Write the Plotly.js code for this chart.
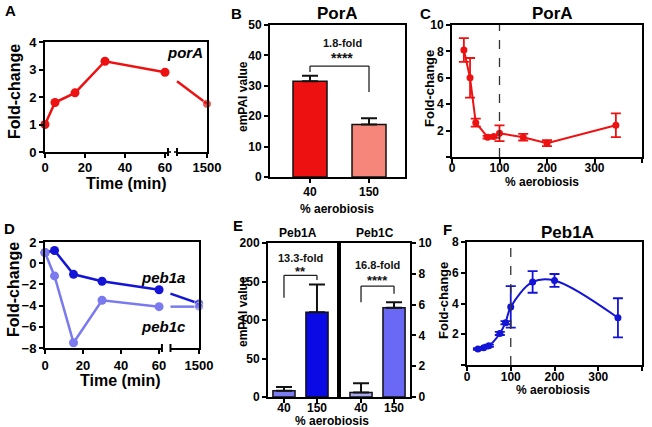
<!DOCTYPE html>
<html><head><meta charset="utf-8">
<script src="https://cdn.plot.ly/plotly-3.0.1.min.js"></script>
<style>html,body{margin:0;padding:0;background:#fff}#chart{width:652px;height:427px}</style>
</head><body><div id="chart"></div>
<script>
// ---------- data ----------
const timeLabels = ['0','20','40','60','1500'];
const timeTicks = [0,20,40,60,1500];
const timeMin = [0,5,15,30,60,1500];
const porA = [1.0,1.8,2.15,3.3,2.9,1.75];
const peb1a = [1.0,1.2,-1.05,-1.7,-2.5,-3.8];
const peb1c = [1.0,-1.2,-7.5,-3.5,-4.1,-4.1];

const aeroCats = ['40','150'];
const porAempai = [31.5,17.3];
const porAempaiErr = [1.8,2.0];
const peb1Aempai = [8,110];
const peb1AempaiErr = [5,36];
const peb1Cempai = [0.3,5.8];
const peb1CempaiErr = [0.6,0.35];

const aero = [25,38,50,75,88,100,150,200,345];
const porAfold = [8.1,6.0,2.6,1.5,1.55,1.8,1.5,1.05,2.4];
const porAfoldErr = [0.9,1.5,0.3,0.1,0.1,0.6,0.25,0.22,0.9];
const peb1Afold = [1.04,1.12,1.25,2.05,2.75,3.78,5.4,5.5,3.07];
const peb1AfoldErr = [0.05,0.05,0.07,0.1,0.1,1.35,0.7,0.42,1.27];

// ---------- layout helpers ----------
const W=652,H=427;
const FONT='"Liberation Sans", Arial, sans-serif';
const POS_LAST=81, BRK0=61.5, BRK1=66;
const tpos = t => t<=60 ? t : POS_LAST;
const xd=(a,b)=>[a/W,b/W];
const yd=(t,b)=>[1-b/H,1-t/H];
const px=x=>x/W, py=y=>1-y/H;
const RED='#ee1111', SALMON='#f7867a';
const BLUE_D='#1414d6', BLUE_L='#7a7aee';

function ax(extra){
  return Object.assign({showline:true,linecolor:'#000',linewidth:2,mirror:true,ticks:'outside',
    ticklen:4,tickwidth:2,tickcolor:'#000',showgrid:false,zeroline:false,fixedrange:true,
    tickfont:{family:FONT,size:12,color:'#000',weight:'bold'}},extra);
}

const traces=[];
// A
const tA = timeMin.map(tpos);
traces.push({x:tA.slice(0,5),y:porA.slice(0,5),xaxis:'x',yaxis:'y',mode:'lines+markers',cliponaxis:false,
  line:{color:RED,width:2.5},marker:{color:RED,size:9}});
const yBrkA = porA[4]+(porA[5]-porA[4])*(BRK1-60)/(POS_LAST-60);
traces.push({x:[BRK1,tA[5]],y:[yBrkA,porA[5]],xaxis:'x',yaxis:'y',mode:'lines+markers',cliponaxis:false,
  line:{color:RED,width:2.5},marker:{color:RED,size:[0,9]}});
// B
traces.push({type:'bar',x:aeroCats,y:porAempai,xaxis:'x2',yaxis:'y2',width:0.576,
  marker:{color:[RED,SALMON],line:{color:'#111',width:1.5}},
  error_y:{type:'data',symmetric:false,array:porAempaiErr,arrayminus:[0,0],color:'#111',thickness:2,width:8}});
// C
traces.push({x:aero,y:porAfold,xaxis:'x3',yaxis:'y3',mode:'lines+markers',cliponaxis:false,
  line:{color:RED,width:2},marker:{color:RED,size:7},
  error_y:{type:'data',array:porAfoldErr,color:RED,thickness:1.8,width:5}});
// D
[[peb1a,BLUE_D],[peb1c,BLUE_L]].forEach(([s,c])=>{
  traces.push({x:tA.slice(0,5),y:s.slice(0,5),xaxis:'x4',yaxis:'y4',mode:'lines+markers',cliponaxis:false,
    line:{color:c,width:2.5},marker:{color:c,size:9}});
  const yb = s[4]+(s[5]-s[4])*(BRK1-60)/(POS_LAST-60);
  traces.push({x:[BRK1,tA[5]],y:[yb,s[5]],xaxis:'x4',yaxis:'y4',mode:'lines+markers',cliponaxis:false,
    line:{color:c,width:2.5},marker:{color:c,size:[0,9]}});
});
// E
traces.push({type:'bar',x:aeroCats,y:peb1Aempai,xaxis:'x5',yaxis:'y5',width:0.67,
  marker:{color:['#7b7bf2','#0a0ae6'],line:{color:'#111',width:1.5}},
  error_y:{type:'data',symmetric:false,array:peb1AempaiErr,arrayminus:[0,0],color:'#111',thickness:2,width:8}});
traces.push({type:'bar',x:aeroCats,y:peb1Cempai,xaxis:'x6',yaxis:'y6',width:0.67,
  marker:{color:['#a9a9f2','#6969f5'],line:{color:'#111',width:1.5}},
  error_y:{type:'data',symmetric:false,array:peb1CempaiErr,arrayminus:[0,0],color:'#111',thickness:2,width:8}});
// F
traces.push({x:aero,y:peb1Afold,xaxis:'x7',yaxis:'y7',mode:'lines+markers',cliponaxis:false,
  line:{color:BLUE_D,width:2,shape:'spline',smoothing:1},marker:{color:BLUE_D,size:7},
  error_y:{type:'data',array:peb1AfoldErr,color:BLUE_D,thickness:1.8,width:5}});

const F13={family:FONT,size:13,color:'#000',weight:'bold'};
const timeAxis = (dom,anchor,so)=>ax({domain:dom,anchor:anchor,range:[0,POS_LAST],tickvals:timeTicks.map(tpos),
  ticktext:timeLabels,tickfont:F13,ticklabelstandoff:so});

const layout={
  width:W,height:H,margin:{l:0,r:0,t:0,b:0},showlegend:false,paper_bgcolor:'#fff',plot_bgcolor:'rgba(0,0,0,0)',
  font:{family:FONT,color:'#000'},
  xaxis:timeAxis(xd(45,207),'y',-2),
  yaxis:ax({domain:yd(42,152),anchor:'x',range:[0,4],dtick:1,tickfont:F13}),
  xaxis2:ax({domain:xd(270,405),anchor:'y2',type:'category',range:[-0.678,1.61],ticklabelstandoff:-1}),
  yaxis2:ax({domain:yd(25,177),anchor:'x2',range:[0,50],dtick:10}),
  xaxis3:ax({domain:xd(452,642),anchor:'y3',range:[0,400],dtick:100,ticklabelstandoff:-5}),
  yaxis3:ax({domain:yd(25,157),anchor:'x3',range:[0,10],tickvals:[0,2,4,6,8,10],ticktext:['','2','4','6','8','10']}),
  xaxis4:timeAxis(xd(45,199),'y4',0),
  yaxis4:ax({domain:yd(242,348),anchor:'x4',range:[-8,2],dtick:2,tickfont:F13}),
  xaxis5:ax({domain:xd(268,339),anchor:'y5',type:'category',range:[-0.484,1.667],ticklabelstandoff:-5}),
  yaxis5:ax({domain:yd(243,397),anchor:'x5',range:[0,200],dtick:50}),
  xaxis6:ax({domain:xd(339,410),anchor:'y6',type:'category',range:[-0.667,1.484],ticklabelstandoff:-5}),
  yaxis6:ax({domain:yd(243,397),anchor:'x6',range:[0,10],dtick:2,side:'right'}),
  xaxis7:ax({domain:xd(467,642),anchor:'y7',range:[0,400],dtick:100,ticklabelstandoff:-4}),
  yaxis7:ax({domain:yd(242,365),anchor:'x7',range:[0,8],tickvals:[0,2,4,6,8],ticktext:['','2','4','6','8']}),
  shapes:[],annotations:[]
};

// axis breaks (A and D)
[['x',152],['x4',348]].forEach(([xr,yb])=>{
  layout.shapes.push({type:'rect',xref:xr,yref:'paper',x0:BRK0,x1:BRK1,y0:py(yb+2.5),y1:py(yb-2.5),fillcolor:'#fff',line:{width:0},layer:'above'});
  [BRK0,BRK1].forEach(b=>layout.shapes.push({type:'line',xref:xr,yref:'paper',x0:b,x1:b,y0:py(yb+4),y1:py(yb-4),line:{color:'#000',width:2},layer:'above'}));
  if(xr==='x') layout.shapes.push({type:'line',xref:xr,yref:'paper',x0:BRK0,x1:BRK1,y0:py(yb),y1:py(yb),line:{color:'#000',width:1.5,dash:'dot'},layer:'above'});
});
// dashed reference lines at 100% aerobiosis
['3','7'].forEach(k=>layout.shapes.push({type:'line',xref:'x'+k,yref:'y'+k+' domain',x0:100,x1:100,y0:0,y1:1,line:{color:'#333',width:1.3,dash:'dash'}}));
// significance brackets
function bracket(xr,yr,x0,x1,yTop,yL,yR){
  const l={color:'#222',width:1.3};
  layout.shapes.push({type:'line',xref:xr,yref:yr,x0:x0,x1:x1,y0:yTop,y1:yTop,line:l});
  layout.shapes.push({type:'line',xref:xr,yref:yr,x0:x0,x1:x0,y0:yTop,y1:yL,line:l});
  layout.shapes.push({type:'line',xref:xr,yref:yr,x0:x1,x1:x1,y0:yTop,y1:yR,line:l});
}
bracket('x2','y2',0,1,36.5,34.5,28);
bracket('x5','y5',0,1,158,129,152);
bracket('x6','y6',0,1,7.2,6.15,6.7);

function ann(text,x,y,size,opts){
  layout.annotations.push(Object.assign({text:text,x:px(x),y:py(y),xref:'paper',yref:'paper',showarrow:false,
    xanchor:'center',yanchor:'middle',font:{family:FONT,size:size,color:'#000',weight:'bold'}},opts||{}));
}
function dann(text,xr,yr,x,y,size){
  layout.annotations.push({text:text,x:x,y:y,xref:xr,yref:yr,showarrow:false,xanchor:'center',yanchor:'middle',
    font:{family:FONT,size:size,color:'#111',weight:'bold'}});
}
// panel letters
ann('A',10,10,15); ann('B',236,13,15); ann('C',425,13,15);
ann('D',9,228,15); ann('E',238,225,15); ann('F',447,229,15);
// titles
ann('PorA',337,13,17); ann('PorA',552,13,17); ann('Peb1A',567,232,17);
ann('Peb1A',298,233,12); ann('Peb1C',375,233,12);
// axis titles
ann('Fold-change',14,92,16,{textangle:-90});
ann('Time (min)',126,183,16);
ann('Fold-change',13,290,16,{textangle:-90});
ann('Time (min)',120,380,16);
ann('emPAI value',243,97,12,{textangle:-90});
ann('% aerobiosis',337,209,12);
ann('Fold-change',429,89,13,{textangle:-90});
ann('% aerobiosis',542,182,12);
ann('emPAI value',243,312,12,{textangle:-90});
ann('% aerobiosis',332,421,12);
ann('Fold-change',443,301,13,{textangle:-90});
ann('% aerobiosis',553,390,12);
// gene labels
const IT={family:FONT,size:15,color:'#000',weight:'bold',style:'italic'};
ann('porA',185,52,15,{font:IT});
ann('peb1a',163,277,15,{font:IT});
ann('peb1c',163,326,15,{font:IT});
// significance text
dann('1.8-fold','x2','y2',0.55,44.1,11); dann('****','x2','y2',0.55,39,14);
dann('13.3-fold','x5','y5',0.5,180.5,11); dann('**','x5','y5',0.5,163,13);
dann('16.8-fold','x6','y6',0.5,8.55,11); dann('****','x6','y6',0.5,7.55,13);

Plotly.newPlot('chart',traces,layout,{staticPlot:true,displayModeBar:false});
</script></body></html>
